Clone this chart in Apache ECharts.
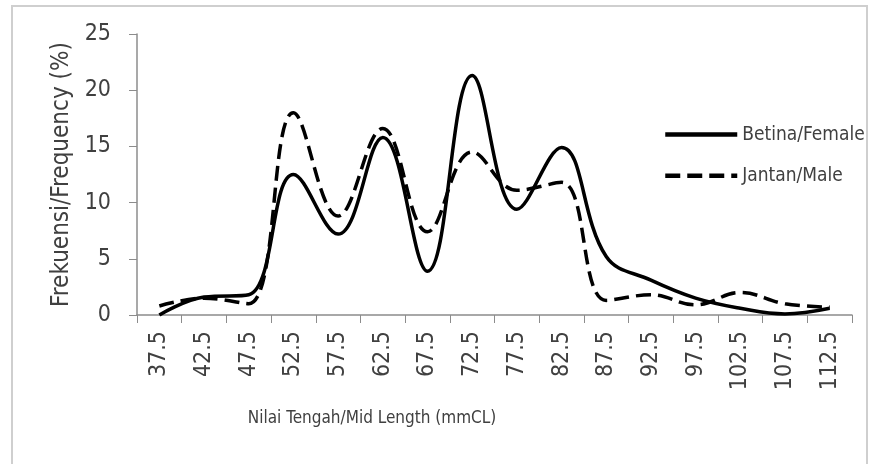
<!DOCTYPE html>
<html>
<head>
<meta charset="utf-8">
<script src="https://cdn.jsdelivr.net/npm/echarts@6/dist/echarts.min.js"></script>
<style>
    html, body { margin: 0; padding: 0; background: #fff; }
    #main { width: 869px; height: 464px; }
</style>
</head>
<body>
<div id="main"></div>
<script>
// kelas panjang (mmCL)
const midLength = ['37.5', '42.5', '47.5', '52.5', '57.5', '62.5', '67.5', '72.5',
    '77.5', '82.5', '87.5', '92.5', '97.5', '102.5', '107.5', '112.5'];
// frekuensi (%)
const female = [0, 1.6, 1.8, 12.5, 7.2, 15.8, 3.9, 21.3, 9.4, 14.9, 5.2, 3.1, 1.5, 0.6, 0.1, 0.6];
const male = [0.8, 1.5, 1.0, 18.0, 8.8, 16.6, 7.4, 14.5, 11.1, 11.8, 1.3, 1.8, 0.9, 2.0, 1.0, 0.7];

const textColor = '#404040';
const axisColor = '#8c8c8c';
const font = '"DejaVu Sans Condensed", sans-serif';

const chartDom = document.getElementById('main');
const myChart = echarts.init(chartDom, null, { renderer: 'canvas' });

const option = {
    animation: false,
    backgroundColor: '#fff',
    grid: { left: 137, right: 17, top: 34, bottom: 149 },
    legend: {
        left: 658,
        top: 120,
        orient: 'vertical',
        itemWidth: 72,
        itemHeight: 24,
        itemGap: 22,
        itemStyle: { opacity: 0 },
        lineStyle: { width: 4.5 },
        textStyle: { color: textColor, fontSize: 19, fontFamily: font },
        data: ['Betina/Female', 'Jantan/Male']
    },
    xAxis: {
        type: 'category',
        data: midLength,
        boundaryGap: true,
        axisLine: { lineStyle: { color: axisColor, width: 1.5 } },
        axisTick: { show: true, length: 8, lineStyle: { color: axisColor } },
        axisLabel: { rotate: 90, color: textColor, fontSize: 23, fontFamily: font, margin: 16 }
    },
    yAxis: {
        type: 'value',
        min: 0,
        max: 25,
        interval: 5,
        splitLine: { show: false },
        axisLine: { show: true, lineStyle: { color: axisColor, width: 1.5 } },
        axisTick: { show: true, length: 8, lineStyle: { color: axisColor } },
        axisLabel: { color: textColor, fontSize: 23, fontFamily: font, margin: 26 },
        name: 'Frekuensi/Frequency (%)',
        nameLocation: 'middle',
        nameGap: 60,
        nameTextStyle: { color: textColor, fontSize: 24, fontFamily: font }
    },
    graphic: [
        {
            type: 'rect',
            shape: { x: 12, y: 6, width: 855, height: 470 },
            style: { fill: 'none', stroke: '#cfcfcf', lineWidth: 2 },
            silent: true,
            z: -1
        },
        {
            type: 'text',
            x: 372,
            y: 419,
            style: {
                text: 'Nilai Tengah/Mid Length (mmCL)',
                fill: textColor,
                fontSize: 17,
                fontFamily: font,
                align: 'center',
                verticalAlign: 'middle'
            }
        }
    ],
    series: [
        {
            name: 'Betina/Female',
            type: 'line',
            data: female,
            smooth: 0.4,
            symbol: 'none',
            lineStyle: { color: '#000', width: 3.5 },
            itemStyle: { color: '#000' }
        },
        {
            name: 'Jantan/Male',
            type: 'line',
            data: male,
            smooth: 0.4,
            symbol: 'none',
            lineStyle: { color: '#000', width: 3.5, type: [15, 7] },
            itemStyle: { color: '#000' }
        }
    ]
};

option && myChart.setOption(option);
</script>
</body>
</html>
